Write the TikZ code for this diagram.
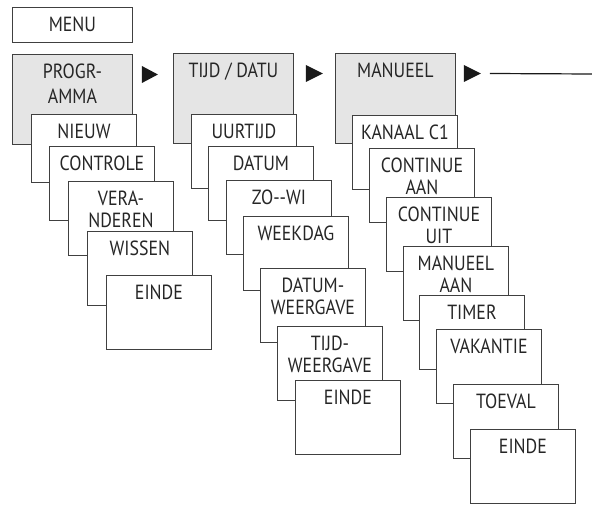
\documentclass[tikz,border=0pt]{standalone}
\usepackage{fontspec}
\setmainfont{PT Sans}[FakeStretch=0.87]
\begin{document}
\begin{tikzpicture}[x=1pt,y=-1pt,
  lbl/.style={anchor=north, inner sep=0, yshift=-10, align=center, text=black!85, font=\fontsize{20.5}{22}\selectfont},
  box/.style={draw=black!75, line width=0.9pt, fill=white, anchor=north west, inner sep=0, minimum width=105, minimum height=74, label={[lbl]north:#1}},
  head/.style={box={#1}, fill=black!10, minimum width=120, minimum height=90},
  tri/.style={fill=black!90}]
\useasboundingbox (0,0) rectangle (592,519);
\node[box=MENU, minimum width=120, minimum height=35] (menu) at (12,7){};
\node[head={PROGR-\\[3pt]AMMA}] (prog) at (12,54){};
\node[box=NIEUW, minimum height=68] (prog1) at (31,114){};
\node[box=CONTROLE] (prog2) at (49,146){};
\node[box={VERA-\\NDEREN}] (prog3) at (68,181){};
\node[box=WISSEN] (prog4) at (87,231){};
\node[box=EINDE] (prog5) at (106,275){};
\fill[tri, shift={(prog.north east)}] (9,12) -- (9,29) -- (25,20.5) -- cycle;
\node[head={TIJD / DATU}] (tijd) at (173,53){};
\node[box=UURTIJD] (tijd1) at (191,114){};
\node[box=DATUM] (tijd2) at (208,146){};
\node[box={ZO-{}-WI}] (tijd3) at (226,180){};
\node[box=WEEKDAG] (tijd4) at (243,216){};
\node[box={DATUM-\\WEERGAVE}] (tijd5) at (260,268){};
\node[box={TIJD-\\WEERGAVE}] (tijd6) at (277,326){};
\node[box=EINDE] (tijd7) at (295,380){};
\fill[tri, shift={(tijd.north east)}] (12,12) -- (12,29) -- (29,20.5) -- cycle;
\node[head=MANUEEL] (man) at (335,53){};
\node[box={KANAAL C1}] (man1) at (352,115){};
\node[box={CONTINUE\\AAN}] (man2) at (369,148){};
\node[box={CONTINUE\\UIT}] (man3) at (386,197){};
\node[box={MANUEEL\\AAN}] (man4) at (403,246){};
\node[box=TIMER] (man5) at (419,295){};
\node[box=VAKANTIE] (man6) at (436,329){};
\node[box=TOEVAL] (man7) at (453,384){};
\node[box=EINDE] (man8) at (470,429){};
\fill[tri, shift={(man.north east)}] (8,12) -- (8,29) -- (25,20.5) -- cycle;
\coordinate (tip3) at ([shift={(25,20.5)}]man.north east);
\coordinate (out) at (592,74);
\draw[black!90, line width=1.2pt] ([xshift=9]tip3) -- (out);
\end{tikzpicture}
\end{document}
